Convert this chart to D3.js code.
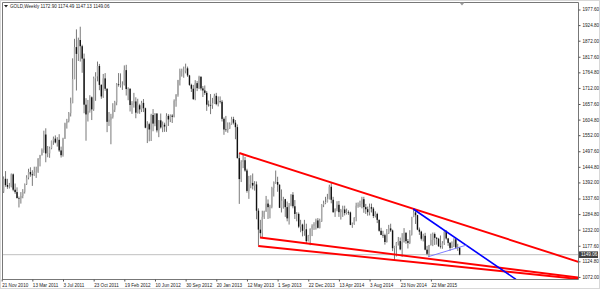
<!DOCTYPE html>
<html lang="en">
<head>
<meta charset="UTF-8">
<title>GOLD,Weekly</title>
<script src="https://cdnjs.cloudflare.com/ajax/libs/d3/7.8.5/d3.min.js"></script>
<style>
  body { margin: 0; background: #fff; }
  svg { display: block; font-family: "Liberation Sans", Arial, sans-serif; }
</style>
</head>
<body>
<svg width="600" height="289"></svg>
<script>
// weekly OHLC, first bar = week of 21 Nov 2010
var opens = [
 1353,1363,1406,1385,1379,1380,
 1421,1369,1361,1341,1340,1348,1362,1388,1410,1429,1421,1418,1429,1430,1474,1486,1504,1556,1492,1492,1509,1535,1542,1529,1538,1502,1486,1542,1594,1602,1628,1662,1744,1852,1829,1876,1855,1813,1657,1624,1636,1682,1641,1746,1753,1788,1724,1685,1746,1711,1599,1606,
 1616,1640,1665,1726,1725,1725,1725,1774,1710,1711,1656,1662,1668,1630,1655,1641,1663,1645,1579,1591,1573,1622,1593,1627,1570,1604,1580,1589,1583,1619,1607,1620,1616,1670,1690,1740,1772,1772,1772,1780,1756,1724,1711,1676,1730,1713,1751,1712,1705,1697,1657,1656,
 1655,1662,1687,1659,1668,1667,1609,1573,1572,1576,1592,1608,1596,1581,1476,1405,1463,1469,1434,1365,1387,1392,1383,1387,1298,1234,1222,1277,1296,1322,1310,1311,1375,1395,1395,1386,1308,1332,1337,1310,1272,1316,1352,1313,1287,1287,1244,1251,1230,1235,1195,1213,
 1237,1247,1252,1265,1240,1262,1318,1323,1327,1338,1379,1335,1293,1303,1318,1293,1300,1302,1290,1293,1292,1250,1253,1274,1315,1316,1320,1337,1310,1303,1293,1310,1305,1280,1287,1267,1230,1216,1215,1192,1222,1238,1231,1171,1178,1190,1195,1167,1192,1223,1195,
 1189,1217,1277,1292,1283,1234,1227,1203,1213,1166,1152,1182,1199,1219,1206,1203,1178,1177,1188,1226,1204,1189,1172,1180,1201,1173,1172.90
];
var highs = [
 1382,1414,1432,1406,1392,1424,
 1424,1390,1377,1346,1361,1371,1390,1418,1440,1445,1435,1447,1447,1476,1487,1509,1569,1577,1517,1515,1535,1549,1553,1547,1557,1515,1545,1596,1609,1632,1681,1814,1880,1912,1884,1921,1860,1830,1679,1673,1689,1685,1752,1767,1803,1795,1726,1761,1764,1712,1632,1626,
 1662,1670,1730,1764,1763,1736,1790,1792,1716,1712,1669,1697,1682,1677,1660,1670,1676,1647,1601,1596,1626,1642,1628,1628,1605,1627,1600,1596,1628,1625,1624,1625,1675,1693,1741,1779,1779,1786,1796,1786,1758,1728,1724,1740,1737,1755,1754,1720,1722,1703,1671,1693,
 1680,1694,1697,1685,1685,1673,1614,1619,1597,1597,1616,1616,1605,1590,1493,1469,1488,1480,1440,1416,1418,1424,1398,1397,1306,1267,1298,1298,1348,1336,1318,1379,1397,1434,1413,1387,1370,1345,1338,1329,1324,1354,1361,1334,1293,1292,1267,1254,1267,1254,1216,1238,
 1252,1259,1271,1273,1271,1320,1332,1345,1355,1386,1392,1345,1306,1330,1331,1304,1315,1315,1305,1299,1295,1258,1276,1325,1326,1332,1345,1345,1321,1312,1322,1322,1310,1296,1291,1268,1240,1230,1220,1236,1250,1254,1234,1179,1192,1209,1207,1222,1239,1225,1202,
 1232,1277,1307,1297,1284,1241,1230,1220,1223,1179,1182,1220,1224,1224,1209,1206,1214,1195,1232,1232,1206,1192,1194,1205,1205,1186,1174.49
];
var lows = [
 1330,1358,1379,1372,1373,1377,
 1364,1355,1339,1309,1322,1340,1356,1385,1404,1413,1382,1416,1409,1426,1448,1485,1494,1462,1479,1477,1506,1521,1526,1515,1497,1478,1481,1541,1576,1597,1617,1662,1743,1705,1805,1803,1765,1628,1535,1600,1630,1605,1636,1670,1736,1706,1677,1680,1704,1564,1585,1523,
 1610,1632,1655,1718,1715,1707,1722,1688,1672,1634,1626,1647,1611,1627,1626,1632,1632,1577,1527,1533,1534,1567,1584,1563,1547,1576,1564,1565,1565,1585,1598,1595,1614,1650,1684,1722,1752,1748,1763,1751,1721,1700,1673,1672,1703,1710,1705,1683,1690,1636,1650,1625,
 1643,1660,1655,1651,1661,1600,1555,1565,1562,1575,1589,1590,1540,1475,1321,1395,1442,1430,1359,1338,1374,1370,1366,1269,1180,1207,1207,1270,1294,1270,1272,1306,1346,1389,1362,1307,1292,1305,1277,1262,1251,1313,1306,1270,1262,1239,1225,1211,1213,1186,1194,1181,
 1212,1233,1234,1238,1238,1260,1310,1320,1326,1336,1323,1291,1277,1296,1277,1268,1277,1282,1285,1284,1249,1240,1250,1262,1308,1310,1306,1291,1287,1281,1282,1292,1273,1275,1256,1227,1215,1206,1183,1190,1219,1226,1161,1131,1143,1180,1164,1142,1190,1186,1170,
 1185,1214,1276,1253,1232,1216,1197,1194,1164,1147,1142,1180,1178,1182,1183,1175,1170,1169,1182,1200,1179,1162,1171,1175,1168,1162,1147.13
];
var closes = [
 1363,1406,1385,1379,1380,1421,
 1369,1361,1341,1340,1348,1362,1388,1410,1429,1421,1418,1429,1430,1474,1486,1504,1556,1492,1492,1509,1535,1542,1529,1538,1502,1486,1542,1594,1602,1628,1662,1744,1852,1829,1876,1855,1813,1657,1624,1636,1682,1641,1746,1753,1788,1724,1685,1746,1711,1599,1606,1616,
 1640,1665,1726,1725,1725,1725,1774,1710,1711,1656,1662,1668,1630,1655,1641,1663,1645,1579,1591,1573,1622,1593,1627,1570,1604,1580,1589,1583,1619,1607,1620,1616,1670,1690,1740,1772,1772,1772,1780,1756,1724,1711,1676,1730,1713,1751,1712,1705,1697,1657,1656,1655,
 1662,1687,1659,1668,1667,1609,1573,1572,1576,1592,1608,1596,1581,1476,1405,1463,1469,1434,1365,1387,1392,1383,1387,1298,1234,1222,1277,1296,1322,1310,1311,1375,1395,1395,1386,1308,1332,1337,1310,1272,1316,1352,1313,1287,1287,1244,1251,1230,1235,1195,1213,1237,
 1247,1252,1265,1240,1262,1318,1323,1327,1338,1379,1335,1293,1303,1318,1293,1300,1302,1290,1293,1292,1250,1253,1274,1315,1316,1320,1337,1310,1303,1293,1310,1305,1280,1287,1267,1230,1216,1215,1192,1222,1238,1231,1171,1178,1190,1195,1167,1192,1223,1195,1189,
 1217,1277,1292,1283,1234,1227,1203,1213,1166,1152,1182,1199,1219,1206,1203,1178,1177,1188,1226,1204,1189,1172,1180,1201,1173,1173,1149.06
];

var dateLabels = ["21 Nov 2010", "13 Mar 2011", "3 Jul 2011", "23 Oct 2011", "19 Feb 2012", "10 Jun 2012",
  "30 Sep 2012", "20 Jan 2013", "12 May 2013", "1 Sep 2013", "22 Dec 2013", "13 Apr 2014",
  "3 Aug 2014", "23 Nov 2014", "22 Mar 2015"];
var dateLabelBars = [0, 16, 32, 48, 64, 80, 96, 112, 128, 144, 160, 176, 192, 208, 224];
var priceTicks = [1977.60, 1924.80, 1872.00, 1817.60, 1764.80, 1712.00, 1657.60, 1604.80, 1552.00,
  1497.60, 1444.80, 1392.00, 1337.60, 1284.80, 1232.00, 1177.60, 1124.80, 1072.00];

// trend lines as [bar, price] anchor pairs
var redUpper  = [[124, 1493.3], [299.7, 1127.6]];
var redLowerA = [[134.8, 1207.2], [300.8, 1071.5]];
var redLowerB = [[133.9, 1178.4], [300.8, 1066.7]];
var blueLine  = [[214.8, 1303.7], [268.4, 1065.6]];
var blueThin  = [[222.6, 1142.2], [242.7, 1181.8]];

var svg = d3.select("svg");
var W = 600, H = 289;
var plotL = 2, plotR = 578, plotT = 2, plotB = 279;

var x = d3.scaleLinear().domain([0, 300]).range([1.7, 1.7 + 300 * 1.916]);
var y = d3.scaleLinear().domain([1066.7, 2004.7]).range([plotB, plotT]);

svg.append("rect").attr("width", W).attr("height", H).attr("fill", "#fff");

svg.append("clipPath").attr("id", "plot")
  .append("rect").attr("x", plotL).attr("y", plotT)
  .attr("width", plotR - plotL).attr("height", plotB - plotT);

var g = svg.append("g").attr("clip-path", "url(#plot)");

// bid line
var last = closes.length - 1;
g.append("line")
  .attr("x1", plotL).attr("x2", plotR)
  .attr("y1", y(closes[last])).attr("y2", y(closes[last]))
  .attr("stroke", "#c0c0c0").attr("stroke-width", 1);

// candles
var candles = g.selectAll(".c").data(d3.range(closes.length)).enter().append("g");
candles.append("line")
  .attr("x1", function(i) { return x(i); }).attr("x2", function(i) { return x(i); })
  .attr("y1", function(i) { return y(highs[i]); }).attr("y2", function(i) { return y(lows[i]); })
  .attr("stroke", "#6a6a6a").attr("stroke-width", 0.9);
candles.append("rect")
  .attr("x", function(i) { return x(i) - 0.7; })
  .attr("width", 1.4)
  .attr("y", function(i) { return y(Math.max(opens[i], closes[i])); })
  .attr("height", function(i) { return Math.max(0.6, Math.abs(y(opens[i]) - y(closes[i]))); })
  .attr("fill", function(i) { return closes[i] >= opens[i] ? "#a8a8a8" : "#111"; });

// trend lines
var line = d3.line().x(function(d) { return x(d[0]); }).y(function(d) { return y(d[1]); });
function ray(pts) {
  // extend to the right edge of the plot
  var xr = x.invert(plotR + 2);
  var k = (pts[1][1] - pts[0][1]) / (pts[1][0] - pts[0][0]);
  return [pts[0], [xr, pts[0][1] + k * (xr - pts[0][0])]];
}
g.append("path").attr("d", line(ray(redLowerB))).attr("stroke", "#ff0000").attr("stroke-width", 1.9).attr("fill", "none");
g.append("path").attr("d", line(ray(redLowerA))).attr("stroke", "#ff0000").attr("stroke-width", 1.9).attr("fill", "none");
g.append("path").attr("d", line(ray(redUpper))).attr("stroke", "#ff0000").attr("stroke-width", 1.9).attr("fill", "none");
g.append("path").attr("d", line(blueLine)).attr("stroke", "#0000ff").attr("stroke-width", 1.6).attr("fill", "none");
g.append("path").attr("d", line(blueThin)).attr("stroke", "#6f6fff").attr("stroke-width", 0.9).attr("fill", "none");

// frame
svg.append("rect").attr("x", 0.5).attr("y", 0.5).attr("width", W - 1).attr("height", H - 1)
  .attr("fill", "none").attr("stroke", "#d8d8d8");
svg.append("path")
  .attr("d", "M" + (plotL + 0.5) + "," + plotB + "V" + (plotT + 0.5) + "H" + (plotR + 0.5) + "V" + (plotB + 0.5) + "H" + plotL)
  .attr("fill", "none").attr("stroke", "#777");

// price axis
var bidY = y(closes[last]);
var ya = svg.append("g").attr("transform", "translate(" + (plotR + 0.5) + ",0)")
  .call(d3.axisRight(y).tickValues(priceTicks).tickFormat(d3.format(".2f")).tickSize(2).tickPadding(2));
ya.select(".domain").remove();
ya.selectAll("line").attr("stroke", "#555");
ya.selectAll(".tick").attr("transform", function(d) {
  var ty = y(d);
  if (Math.abs(ty - bidY) < 7) ty = bidY + 11;
  if (ty > plotB - 1.5) ty = plotB - 1.5;
  return "translate(0," + ty + ")";
});
ya.selectAll("text").attr("font-size", 4.6).attr("fill", "#222").attr("font-family", "Liberation Sans, Arial, sans-serif");

// bid label
svg.append("rect").attr("x", plotR + 1).attr("y", bidY - 3.3).attr("width", 19).attr("height", 6.6).attr("fill", "#404040");
svg.append("text").attr("x", plotR + 3).attr("y", bidY + 1.7)
  .attr("font-size", 4.6).attr("fill", "#fff").text(d3.format(".2f")(closes[last]));

// time axis
var xa = svg.append("g").attr("transform", "translate(0," + (plotB + 0.5) + ")")
  .call(d3.axisBottom(x).tickValues(dateLabelBars)
    .tickFormat(function(d, i) { return dateLabels[i]; }).tickSize(2).tickPadding(2));
xa.select(".domain").remove();
xa.selectAll("line").attr("stroke", "#555");
xa.selectAll("text").attr("text-anchor", "start").attr("font-size", 4.6).attr("fill", "#222")
  .attr("font-family", "Liberation Sans, Arial, sans-serif");

// chart shift marker
svg.append("path").attr("d", "M459.5,2.5 L464.5,2.5 L462,5.5 Z").attr("fill", "#999");

// title
svg.append("path").attr("d", "M4,5 L8,5 L6,7.5 Z").attr("fill", "#222");
svg.append("text").attr("x", 10).attr("y", 8).attr("font-size", 4.6).attr("fill", "#222")
  .text("GOLD,Weekly  1172.90 1174.49 1147.13 1149.06");
</script>
</body>
</html>
